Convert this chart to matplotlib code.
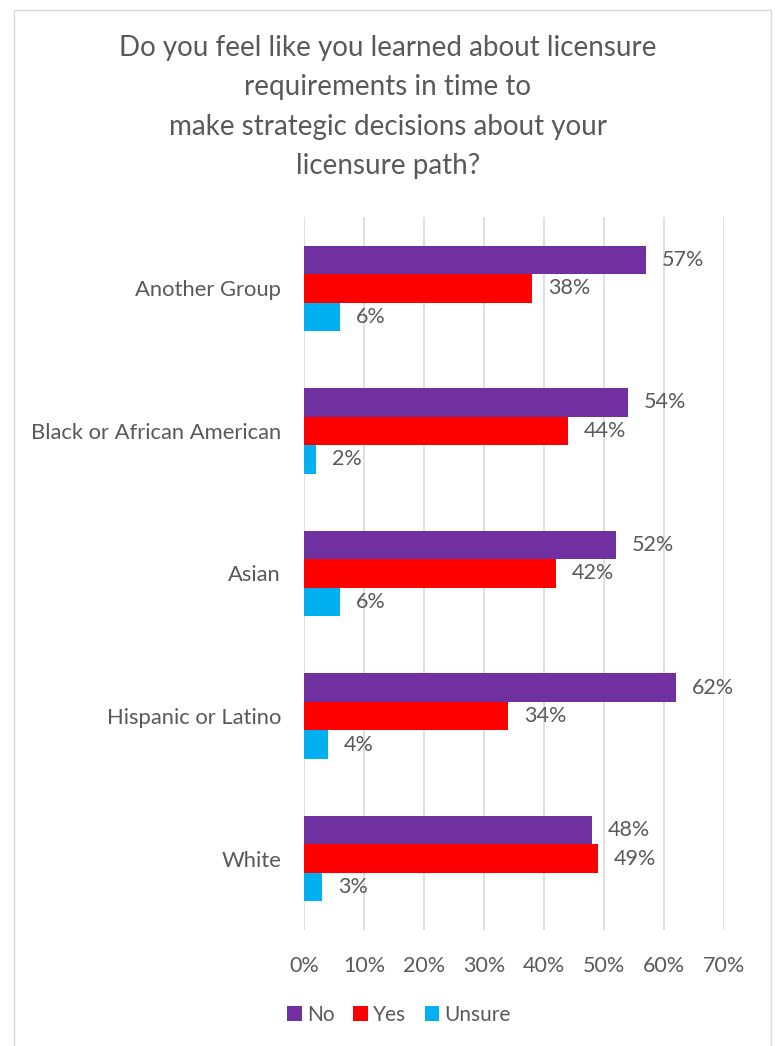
import matplotlib.pyplot as plt
import numpy as np
from matplotlib.patches import Rectangle

groups = ['Another Group', 'Black or African American', 'Asian', 'Hispanic or Latino', 'White']
no = [57, 54, 52, 62, 48]
yes = [38, 44, 42, 34, 49]
unsure = [6, 2, 6, 4, 3]
series = ['No', 'Yes', 'Unsure']
colors = ['#7030A0', '#FF0000', '#00B0F0']
ticks = [0, 10, 20, 30, 40, 50, 60, 70]

plt.rcParams['font.family'] = ['Lato', 'DejaVu Sans']
txt = '#595959'

fig = plt.figure(figsize=(7.75, 10.46), dpi=100)
fig.patches.append(Rectangle((14 / 775, -0.01), (771 - 14) / 775, 1 - 10 / 1046 + 0.01,
                             transform=fig.transFigure, fill=False, edgecolor='#d9d9d9', lw=1))

ax = fig.add_axes([304 / 775, 1 - 930 / 1046, (724 - 304) / 775, (930 - 217) / 1046])

y = np.arange(len(groups))
h = 0.2
for vals, off, c, name in zip([no, yes, unsure], [-h, 0, h], colors, series):
    bars = ax.barh(y + off, vals, height=h, color=c, label=name, zorder=3)
    for b, v in zip(bars, vals):
        ax.text(v + 2.7, b.get_y() + h / 2, f'{v}%', va='center', ha='left',
                fontsize=15.5, color=txt)

ax.set_ylim(len(groups) - 0.5, -0.5)
ax.set_xlim(0, 70)
ax.set_xticks(ticks)
ax.set_xticklabels([f'{t}%' for t in ticks], fontsize=15.5, color=txt)
ax.set_yticks(y)
ax.set_yticklabels(groups, fontsize=15.8, color=txt)
ax.tick_params(length=0, pad=16.5, axis='y')
ax.tick_params(length=0, pad=19, axis='x')
ax.grid(axis='x', color='#d9d9d9', lw=1.2, zorder=0)
for s in ax.spines.values():
    s.set_visible(False)

fig.text(388 / 775, 1 - 107 / 1046,
         'Do you feel like you learned about licensure\nrequirements in time to\nmake strategic decisions about your\nlicensure path?',
         ha='center', va='center', fontsize=20, color=txt, linespacing=1.62)

leg = fig.legend(loc='center', bbox_to_anchor=(399 / 775, 1 - 1015 / 1046), ncol=3, frameon=False,
                 fontsize=15, handlelength=0.7, handleheight=0.7, handletextpad=0.25,
                 columnspacing=0.9)
for t in leg.get_texts():
    t.set_color(txt)

fig.savefig('out.png', dpi=100)
